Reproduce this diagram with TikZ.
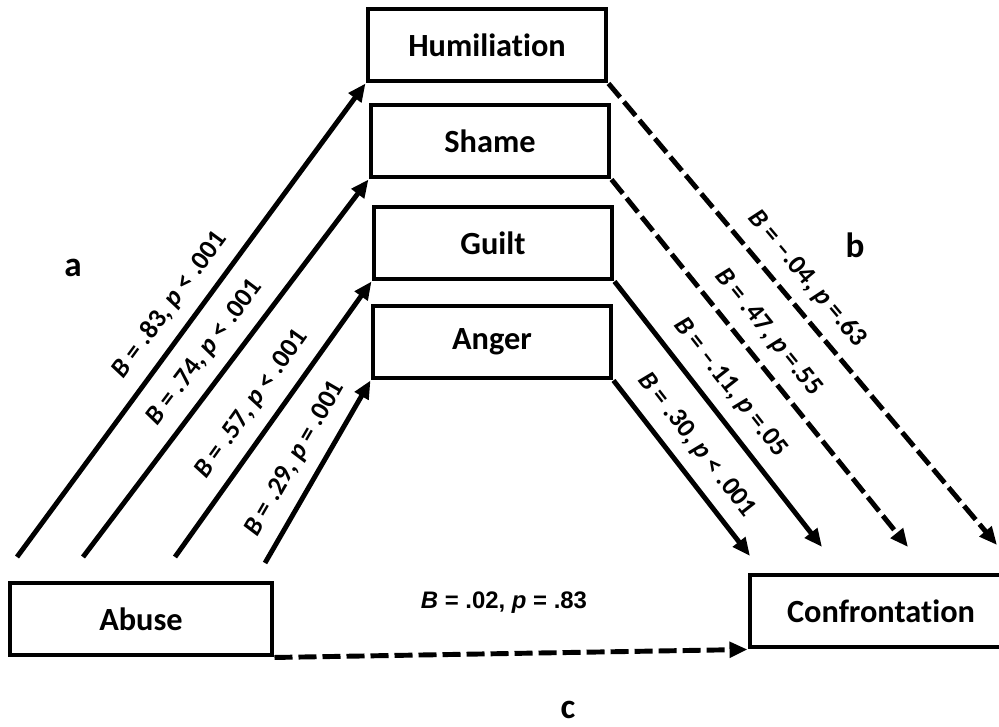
\documentclass[tikz,border=0pt]{standalone}
\usepackage{fontspec}
\setmainfont{Carlito}[Ligatures=NoCommon]
\newfontfamily\arialfont{Liberation Sans}
\usetikzlibrary{arrows.meta}

\begin{document}
\begin{tikzpicture}[x=0.025cm, y=-0.025cm,
    box/.style={draw, line width=3.5pt, minimum width=5.95cm, minimum height=1.8cm,
                font=\fontsize{23}{27}\selectfont\bfseries},
    conn/.style={line width=3.5pt, -{Triangle[length=0.45cm, width=0.38cm]}},
    dsh/.style={dash pattern=on 0.45cm off 0.15cm},
    lbl/.style={sloped, above=7pt, inner sep=2pt, font=\fontsize{19}{23}\selectfont\bfseries},
    letter/.style={inner sep=0pt, font=\fontsize{25}{29}\selectfont\bfseries}]
    \useasboundingbox (0,0) rectangle (999,727);

    % mediators
    \node[box] (hum) at (487,45) {Humiliation};
    \node[box] (sha) at (490,141) {Shame};
    \node[box] (gui) at (493,243) {Guilt};
    \node[box] (ang) at (492,342) {Anger};
    \node[box, minimum width=6.55cm] (abu) at (141,619) {Abuse};
    \node[box, minimum width=6.55cm] (con) at (881,611) {Confrontation};

    \coordinate (s1) at (17,557);
    \coordinate (s2) at (83,557);
    \coordinate (s3) at (175,557);
    \coordinate (s4) at (265,563);
    \coordinate (e1) at (997,545);
    \coordinate (e2) at (908,547);
    \coordinate (e3) at (822,547);
    \coordinate (e4) at (750,556);

    % a paths
    \foreach \s/\m/\lab in {
        s1/hum/{\textit{B} = .83, \textit{p} < .001},
        s2/sha/{\textit{B} = .74, \textit{p} < .001},
        s3/gui/{\textit{B} = .57, \textit{p} < .001},
        s4/ang/{\textit{B} = .29, \textit{p} = .001}} {
        \draw[conn] (\s) -- node[lbl, pos=0.5] {\lab} (\m.south west);
    }
    % b paths
    \foreach \m/\e/\st/\lab in {
        hum/e1/dsh/{\textit{B} = --.04, \textit{p} =.63},
        sha/e2/dsh/{\textit{B} = .47, \textit{p} =.55},
        gui/e3/solid/{\textit{B} = --.11, \textit{p} =.05},
        ang/e4/solid/{\textit{B} = .30, \textit{p} < .001}} {
        \draw[conn, \st] (\m.south east) -- node[lbl, pos=0.46] {\lab} (\e);
    }
    % c path
    \draw[conn, dsh] (abu.south east) -- (con.south west);
    \node[font=\arialfont\fontsize{17}{20}\selectfont\bfseries] (cl) at (504,603)
        {\textit{B} = .02, \textit{p} = .83};

    \node[letter] (la) at (73,268) {a};
    \node[letter] (lb) at (855,245) {b};
    \node[letter] (lc) at (568,710) {c};
\end{tikzpicture}
\end{document}
